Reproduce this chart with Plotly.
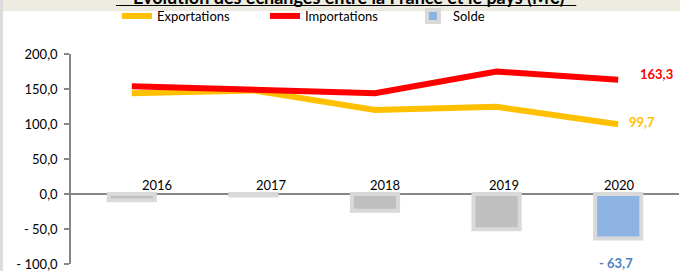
import plotly.graph_objects as go

years = ["2016", "2017", "2018", "2019", "2020"]
exportations = [144, 148, 120, 124.5, 99.7]
importations = [154, 149.5, 144, 175, 163.3]
solde = [-9, -2, -24, -50.5, -63.7]
y_tickvals = [200, 150, 100, 50, 0, -50, -100]
y_ticktext = ["200,0", "150,0", "100,0", "50,0", "0,0", "- 50,0", "- 100,0"]
title_text = "Évolution des échanges entre la France et le pays (M€)"

FONT = "Lato"
C_EXP = "#FFC000"
C_IMP = "#FF0000"
C_GRAY = "#BFBFBF"
C_BLUE = "#8EB4E3"
C_LBL_BLUE = "#4F81BD"


def fr(v):
    s = f"{abs(v):.1f}".replace(".", ",")
    return ("- " + s) if v < 0 else s


idx = list(range(len(years)))
last = idx[-1]

fig = go.Figure()

# Solde bars: gray for earlier years, blue for the last year
fig.add_trace(go.Bar(
    x=idx[:-1], y=solde[:-1], name="Solde", showlegend=False,
    marker=dict(color=C_GRAY, line=dict(color="#D9D9D9", width=4)),
    width=0.38, customdata=years[:-1], hovertemplate="%{customdata}: %{y}<extra></extra>",
))
fig.add_trace(go.Bar(
    x=idx[-1:], y=solde[-1:], name="Solde", showlegend=True,
    marker=dict(color=C_BLUE, line=dict(color="#D9D9D9", width=4)),
    width=0.38, legendrank=3,
))
fig.add_trace(go.Scatter(
    x=idx, y=exportations, name="Exportations", mode="lines",
    line=dict(color=C_EXP, width=6), legendrank=1,
))
fig.add_trace(go.Scatter(
    x=idx, y=importations, name="Importations", mode="lines",
    line=dict(color=C_IMP, width=6), legendrank=2,
))

annotations = []
# category labels sitting on the zero line
label_shift = [25, 18, 10, 7, 1]
for i, yr, sh in zip(idx, years, label_shift):
    annotations.append(dict(
        x=i, y=0, xref="x", yref="y", text=yr, showarrow=False,
        yanchor="bottom", xanchor="center", xshift=sh, yshift=-1,
        font=dict(family=FONT, size=13, color="#000000"),
    ))
# data labels for last year
annotations.append(dict(
    x=last, y=importations[-1], text="<b>" + fr(importations[-1]) + "</b>",
    showarrow=False, xanchor="left", yanchor="middle", xshift=20, yshift=6,
    font=dict(family=FONT, size=13, color=C_IMP),
))
annotations.append(dict(
    x=last, y=exportations[-1], text="<b>" + fr(exportations[-1]) + "</b>",
    showarrow=False, xanchor="left", yanchor="middle", xshift=9, yshift=2,
    font=dict(family=FONT, size=13, color=C_EXP),
))
annotations.append(dict(
    x=last, y=solde[-1], text="<b>" + fr(solde[-1]) + "</b>",
    showarrow=False, xanchor="center", yanchor="top", xshift=-2, yshift=-14,
    font=dict(family=FONT, size=13, color=C_LBL_BLUE),
))
# clipped title at top
annotations.append(dict(
    x=0.456, y=1.2075, xref="paper", yref="paper", text="<b>" + title_text + "</b>",
    showarrow=False, xanchor="center", yanchor="bottom",
    font=dict(family=FONT, size=18, color="#000000"),
))

shapes = [
    dict(type="rect", xref="paper", yref="paper", x0=-0.12, x1=1.01,
         y0=1.2048, y1=1.3, fillcolor="#EEECE1", line=dict(width=0), layer="below"),
    dict(type="rect", xref="paper", yref="paper", x0=-0.12, x1=-0.1118,
         y0=-0.05, y1=1.3, fillcolor="#DCDCDC", line=dict(width=0), layer="below"),
    dict(type="line", xref="paper", yref="paper", x0=0.074, x1=0.831,
         y0=1.2310, y1=1.2310, line=dict(color="#000000", width=1.2)),
]

fig.update_layout(
    width=680, height=271,
    margin=dict(l=71, r=1, t=54, b=7, autoexpand=False),
    paper_bgcolor="#FFFFFF", plot_bgcolor="#FFFFFF",
    barmode="overlay",
    font=dict(family=FONT, size=13, color="#000000"),
    showlegend=True,
    legend=dict(
        orientation="h", xref="container", yref="container",
        x=0.172, y=0.941, xanchor="left", yanchor="middle",
        traceorder="normal", entrywidth=103, bgcolor="rgba(0,0,0,0)",
        font=dict(family=FONT, size=13, color="#000000"),
    ),
    annotations=annotations,
    shapes=shapes,
    xaxis=dict(
        range=[-0.5, 4.5], showticklabels=False, showgrid=False,
        showline=False, ticks="", zeroline=False, fixedrange=True,
    ),
    yaxis=dict(
        range=[-100, 200], tickvals=y_tickvals, ticktext=y_ticktext,
        showgrid=False, showline=True, linecolor="#868686", linewidth=1.5,
        ticks="outside", ticklen=5, tickcolor="#868686", tickwidth=1.5,
        zeroline=True, zerolinecolor="#868686", zerolinewidth=2,
        ticklabelstandoff=4, automargin=False, ticklabeloverflow="allow",
        tickfont=dict(family=FONT, size=13, color="#000000"),
        fixedrange=True,
    ),
)

fig.write_html(
    "out.html",
    config={"displayModeBar": False},
    post_script="document.body.style.margin='0';document.body.style.padding='0';document.body.style.overflow='hidden';",
)
